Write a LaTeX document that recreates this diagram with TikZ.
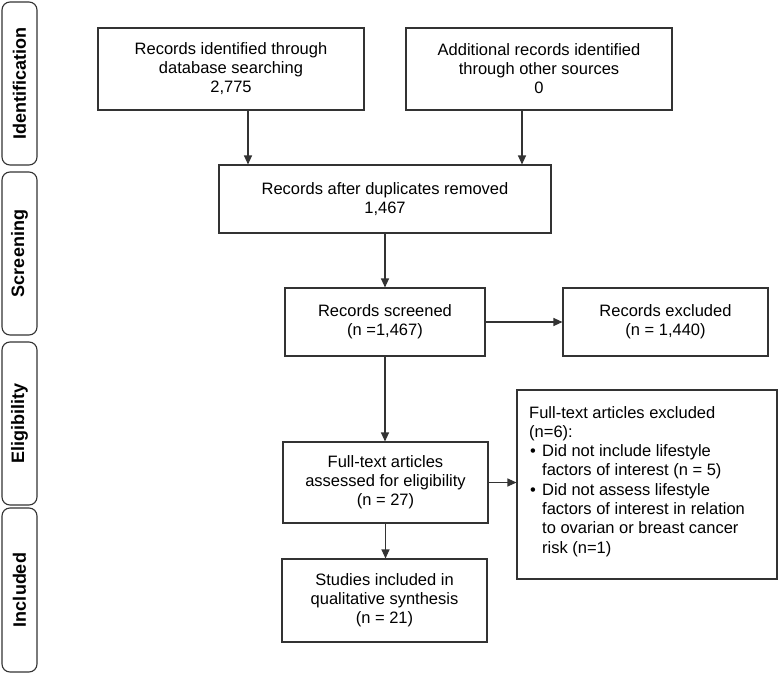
\documentclass[tikz,border=0pt]{standalone}
\usepackage{fontspec}
\setmainfont{Liberation Sans}
\usetikzlibrary{arrows.meta}
\definecolor{ln}{HTML}{333333}
\begin{document}
\begin{tikzpicture}[x=1pt,y=-1pt,
  box/.style={draw=ln, line width=1.1pt, align=center, inner sep=0pt, font=\fontsize{16.5}{19}\selectfont},
  phase/.style={draw=ln, line width=1.1pt, rounded corners=8pt, rotate=90, inner sep=0pt, minimum height=35pt, font=\fontsize{18}{20}\selectfont\bfseries},
  arr/.style={draw=ln, line width=1.1pt, -{Triangle[length=9pt,width=8pt]}}
]
\useasboundingbox[fill=white] (0,0) rectangle (778,674);
% phase labels
\node[phase, minimum width=163] (p1) at (19.5,83.5) {Identification};
\node[phase, minimum width=163] (p2) at (19.5,253.5) {Screening};
\node[phase, minimum width=163] (p3) at (19.5,423.5) {Eligibility};
\node[phase, minimum width=164] (p4) at (19.5,590) {Included};
% boxes
\node[box, minimum width=266, minimum height=82] (b1) at (231,69) {Records identified through\\database searching\\2,775};
\node[box, minimum width=266, minimum height=82] (b2) at (539,69) {Additional records identified\\through other sources\\0};
\node[box, minimum width=332, minimum height=68] (b3) at (385,199) {Records after duplicates removed\\1,467};
\node[box, minimum width=200, minimum height=68] (b4) at (385,322) {Records screened\\(n =1,467)};
\node[box, minimum width=205, minimum height=68] (ex1) at (665.5,322) {Records excluded\\(n = 1,440)};
\node[box, minimum width=205, minimum height=81] (ft) at (385.5,482.5) {Full-text articles\\assessed for eligibility\\(n = 27)};
\node[box, minimum width=260, minimum height=189] (ex2) at (647,484.5) {};
\node[anchor=base west, inner sep=0pt] (ex2t) at (529,418) {\parbox[t]{245pt}{\raggedright\fontsize{16.5}{19.3}\selectfont
Full-text articles excluded\\
(n=6):\\
\makebox[13pt][l]{\hspace{1pt}\textbullet}Did not include lifestyle\\
\hspace*{13pt}factors of interest (n = 5)\\
\makebox[13pt][l]{\hspace{1pt}\textbullet}Did not assess lifestyle\\
\hspace*{13pt}factors of interest in relation\\
\hspace*{13pt}to ovarian or breast cancer\\
\hspace*{13pt}risk (n=1)}};
\node[box, minimum width=205, minimum height=83] (st) at (384.5,600.5) {Studies included in\\qualitative synthesis\\(n = 21)};
% arrows
\draw[arr] ([xshift=17pt]b1.south) -- ([xshift=17pt]b1.south |- b3.north);
\draw[arr] ([xshift=-17pt]b2.south) -- ([xshift=-17pt]b2.south |- b3.north);
\draw[arr] (b3.south) -- (b4.north);
\draw[arr] (b4.east) -- (ex1.west);
\draw[arr] (b4.south) -- (b4.south |- ft.north);
\draw[arr] (ft.east) -- (ft.east -| ex2.west);
\draw[arr] (ft.south) -- (ft.south |- st.north);
\end{tikzpicture}
\end{document}
